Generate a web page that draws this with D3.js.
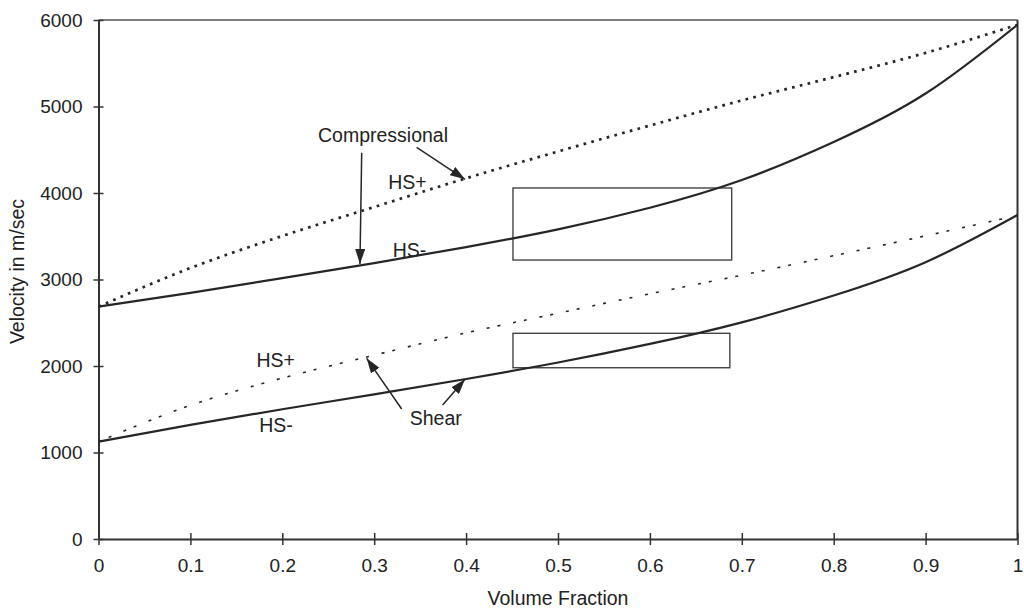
<!DOCTYPE html>
<html>
<head>
<meta charset="utf-8">
<script src="https://cdn.jsdelivr.net/npm/d3@7"></script>
<style>
  html, body { margin: 0; padding: 0; background: #fff; }
  svg { display: block; }
  text { font-family: "Liberation Sans", Arial, sans-serif; fill: #222; }
</style>
</head>
<body>
<svg id="chart" width="1024" height="609"></svg>
<script>
// ---- data ----
const fractions = [0, 0.1, 0.2, 0.3, 0.4, 0.5, 0.6, 0.7, 0.8, 0.9, 1.0];
const compHSplus  = [2686, 3133, 3503, 3838, 4170, 4480, 4780, 5070, 5340, 5620, 5945];
const compHSminus = [2686, 2845, 3015, 3190, 3375, 3580, 3830, 4150, 4590, 5150, 5945];
const shearHSplus  = [1125, 1545, 1860, 2125, 2383, 2610, 2835, 3050, 3275, 3505, 3740];
const shearHSminus = [1125, 1320, 1500, 1672, 1850, 2040, 2255, 2505, 2815, 3200, 3746];

const xTicks = [0, 0.1, 0.2, 0.3, 0.4, 0.5, 0.6, 0.7, 0.8, 0.9, 1];
const xTickLabels = ["0", "0.1", "0.2", "0.3", "0.4", "0.5", "0.6", "0.7", "0.8", "0.9", "1"];
const yTicks = [0, 1000, 2000, 3000, 4000, 5000, 6000];

// boxes
const boxCompX = [0.451, 0.689];
const boxCompY = [3225, 4058];
const boxShearX = [0.451, 0.687];
const boxShearY = [1980, 2378];

// annotation labels
const labelTexts = ["Compressional", "HS+", "HS-", "HS+", "HS-", "Shear"];
const labelX = [0.3096, 0.3361, 0.3384, 0.1929, 0.1931, 0.367];
const labelY = [4590, 4043, 3264, 1992, 1240, 1318];

// arrows
const arrowFromX = [0.2864, 0.3462, 0.3299, 0.3745];
const arrowFromY = [4466, 4528, 1503, 1549];
const arrowToX = [0.2845, 0.3988, 0.2918, 0.3988];
const arrowToY = [3179, 4158, 2089, 1846];

// ---- layout ----
const svg = d3.select("#chart");
const margin = { left: 98.5, right: 1017.5, top: 20, bottom: 539 };
const x = d3.scaleLinear().domain([0, 1]).range([margin.left, margin.right]);
const y = d3.scaleLinear().domain([0, 6000]).range([margin.bottom, margin.top]);
const ink = "#262626";

svg.append("defs").append("marker")
  .attr("id", "ah")
  .attr("markerUnits", "userSpaceOnUse")
  .attr("viewBox", "0 0 15 10")
  .attr("refX", 15).attr("refY", 5)
  .attr("markerWidth", 15).attr("markerHeight", 10)
  .attr("orient", "auto")
  .append("path").attr("d", "M0,0 L15,5 L0,10 Z").attr("fill", ink);

// frame (top + right)
svg.append("line").attr("x1", x(0)).attr("x2", x(1)).attr("y1", y(6000)).attr("y2", y(6000))
  .attr("stroke", "#555").attr("stroke-width", 1.5);
svg.append("line").attr("x1", x(1)).attr("x2", x(1)).attr("y1", y(6000)).attr("y2", y(0))
  .attr("stroke", "#333").attr("stroke-width", 2);

// x axis
const xAxis = d3.axisBottom(x).tickValues(xTicks).tickFormat((d, i) => xTickLabels[i])
  .tickSizeInner(6).tickSizeOuter(0).tickPadding(14);
const gx = svg.append("g").attr("transform", `translate(0,${y(0)})`).call(xAxis);
gx.select(".domain").attr("stroke", "#333").attr("stroke-width", 2);
gx.selectAll(".tick line").attr("stroke", "#333").attr("stroke-width", 1.5).attr("y1", -6);
gx.selectAll(".tick text").style("font-size", "19px").attr("fill", "#222");

// y axis
const yAxis = d3.axisLeft(y).tickValues(yTicks).tickFormat(d3.format("d"))
  .tickSizeInner(5).tickSizeOuter(0).tickPadding(11);
const gy = svg.append("g").attr("transform", `translate(${x(0)},0)`).call(yAxis);
gy.select(".domain").attr("stroke", "#333").attr("stroke-width", 2);
gy.selectAll(".tick line").attr("stroke", "#333").attr("stroke-width", 1.5).attr("x1", 5);
gy.selectAll(".tick text").style("font-size", "19px").attr("fill", "#222");

// axis titles
svg.append("text").attr("x", (x(0) + x(1)) / 2).attr("y", 605)
  .attr("text-anchor", "middle").style("font-size", "19.5px").text("Volume Fraction");
svg.append("text").attr("transform", `translate(24,${(y(0) + y(6000)) / 2 - 8}) rotate(-90)`)
  .attr("text-anchor", "middle").style("font-size", "19.5px").text("Velocity in m/sec");

// boxes
function box(bx, by) {
  svg.append("rect")
    .attr("x", x(bx[0])).attr("y", y(by[1]))
    .attr("width", x(bx[1]) - x(bx[0])).attr("height", y(by[0]) - y(by[1]))
    .attr("fill", "none").attr("stroke", "#444").attr("stroke-width", 1.4);
}
box(boxCompX, boxCompY);
box(boxShearX, boxShearY);

// curves
function curve(vals, width, dash, cv) {
  const line = d3.line().x((d, i) => x(fractions[i])).y(d => y(d)).curve(cv);
  svg.append("path").datum(vals).attr("d", line)
    .attr("fill", "none").attr("stroke", ink).attr("stroke-width", width)
    .attr("stroke-dasharray", dash || null);
}
curve(compHSminus, 2.2, null, d3.curveNatural);
curve(shearHSminus, 2.2, null, d3.curveNatural);
curve(compHSplus, 2.7, "2.7,5.3", d3.curveMonotoneX);
curve(shearHSplus, 1.6, "3,8,3,13", d3.curveMonotoneX);

// arrows
arrowFromX.forEach((fx, i) => {
  svg.append("line")
    .attr("x1", x(fx)).attr("y1", y(arrowFromY[i]))
    .attr("x2", x(arrowToX[i])).attr("y2", y(arrowToY[i]))
    .attr("stroke", ink).attr("stroke-width", 1.5)
    .attr("marker-end", "url(#ah)");
});

// labels
labelTexts.forEach((t, i) => {
  svg.append("text").attr("x", x(labelX[i])).attr("y", y(labelY[i]))
    .attr("text-anchor", "middle").style("font-size", "19.5px").text(t);
});
</script>
</body>
</html>
